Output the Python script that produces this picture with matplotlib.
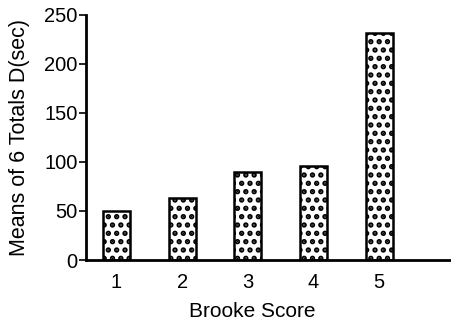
import matplotlib
matplotlib.use("Agg")
import matplotlib.pyplot as plt

# Mean of six total durations per Brooke score
scores = [1, 2, 3, 4, 5]
score_labels = ["1", "2", "3", "4", "5"]
mean_totals = [50, 63, 90, 96, 232]
y_ticks = [0, 50, 100, 150, 200, 250]

plt.rcParams["font.family"] = ["Liberation Sans", "DejaVu Sans"]
plt.rcParams["hatch.linewidth"] = 2.6

fig = plt.figure(figsize=(4.52, 3.25), dpi=100)
ax = fig.add_axes([0.19, 0.2, 0.81, 0.754])

ax.bar(scores, mean_totals, width=0.41, color="white", edgecolor="black",
       linewidth=1.8, hatch="..", zorder=2)

ax.set_xlim(0.535, 6.11)
ax.set_ylim(0, 250)
ax.set_yticks(y_ticks)
ax.set_yticklabels([str(t) for t in y_ticks], fontsize=14.5)
ax.set_xticks(scores)
ax.set_xticklabels(score_labels, fontsize=14.5)

for side in ("top", "right"):
    ax.spines[side].set_visible(False)
for side in ("left", "bottom"):
    ax.spines[side].set_linewidth(2.0)

ax.tick_params(axis="y", direction="out", length=5, width=1.2, pad=1)
ax.tick_params(axis="x", length=0, pad=9)

ax.set_xlabel("Brooke Score", fontsize=15)
ax.set_ylabel("Means of 6 Totals D(sec)", fontsize=15.5)
ax.xaxis.set_label_coords(0.454, -0.172)
ax.yaxis.set_label_coords(-0.153, 0.50)

fig.savefig("out.png", dpi=100)
